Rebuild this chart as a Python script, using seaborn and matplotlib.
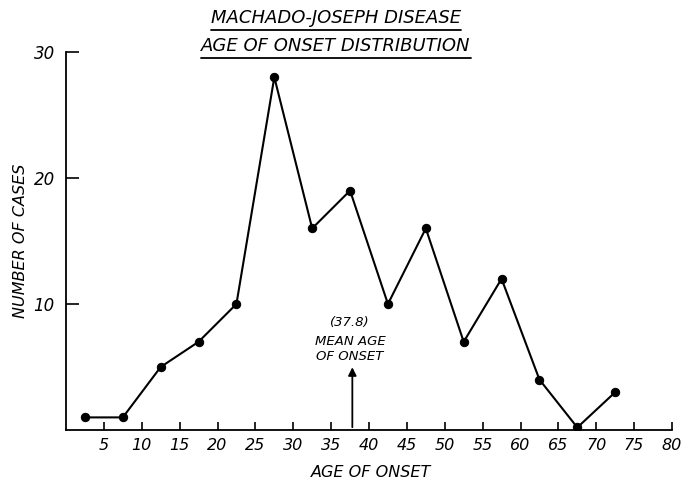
import matplotlib
matplotlib.use("Agg")
import matplotlib.pyplot as plt
import seaborn as sns
import pandas as pd
from matplotlib.lines import Line2D

# ---- data ----
age_midpoints = [2.5, 7.5, 12.5, 17.5, 22.5, 27.5, 32.5, 37.5, 42.5, 47.5, 52.5, 57.5, 62.5, 67.5, 72.5]
num_cases = [1, 1, 5, 7, 10, 28, 16, 19, 10, 16, 7, 12, 4, 0.2, 3]
x_ticks = [5, 10, 15, 20, 25, 30, 35, 40, 45, 50, 55, 60, 65, 70, 75, 80]
y_ticks = [10, 20, 30]
mean_age = 37.8
title_lines = ["MACHADO-JOSEPH DISEASE", "AGE OF ONSET DISTRIBUTION"]

sns.set_theme(style="white")
plt.rcParams['font.family'] = ["DejaVu Sans"]
plt.rcParams['font.style'] = 'italic'
for k in ["text.color", "axes.labelcolor", "xtick.color", "ytick.color", "axes.edgecolor"]:
    plt.rcParams[k] = "black"

df = pd.DataFrame({"age": age_midpoints, "cases": num_cases})

fig = plt.figure(figsize=(6.86, 4.8), dpi=100)
ax = fig.add_axes([66/686, 1-430/480, (672-66)/686, (430-52)/480])
sns.lineplot(data=df, x="age", y="cases", ax=ax, color="black", lw=1.5,
             marker="o", markersize=6, markeredgecolor="black", markerfacecolor="black")

ax.set_xlim(0, 80)
ax.set_ylim(0, 30)
ax.set_xticks(x_ticks)
ax.set_xticklabels([str(t) for t in x_ticks], fontsize=11.5, style='italic')
ax.set_yticks(y_ticks)
ax.set_yticklabels([str(t) for t in y_ticks], fontsize=12, style='italic')
ax.tick_params(axis='x', bottom=True, direction='in', length=6, width=1.2, color='black', pad=6)
ax.tick_params(axis='y', left=True, direction='in', length=9, width=1.2, color='black', pad=8)
for s in ["top", "right"]:
    ax.spines[s].set_visible(False)
for s in ["left", "bottom"]:
    ax.spines[s].set_color("black")
    ax.spines[s].set_linewidth(1.3)

ax.set_xlabel("AGE OF ONSET", fontsize=11.5, style='italic')
ax.xaxis.set_label_coords(0.504, -0.092)
ax.set_ylabel("NUMBER OF CASES", fontsize=11.5, style='italic')
ax.yaxis.set_label_coords(-0.062, 0.5)

# mean arrow
ax.annotate("", xy=(mean_age, 5.2), xytext=(mean_age, 0),
            arrowprops=dict(arrowstyle="-|>", color="black", lw=1.3, mutation_scale=12))
ax.text(mean_age - 0.3, 8.5, "(37.8)", ha="center", va="center", fontsize=9.5, style='italic')
ax.text(mean_age - 0.3, 7.0, "MEAN AGE", ha="center", va="center", fontsize=9.5, style='italic')
ax.text(mean_age - 0.3, 5.8, "OF ONSET", ha="center", va="center", fontsize=9.5, style='italic')

# titles with underline
fig.canvas.draw()
renderer = fig.canvas.get_renderer()
for txt, ypix in zip(title_lines, [18, 46]):
    t = fig.text(336/686, 1 - ypix/480, txt, ha="center", va="center", fontsize=13, style='italic')
    bb = t.get_window_extent(renderer=renderer)
    fx0 = bb.x0 / fig.bbox.width
    fx1 = bb.x1 / fig.bbox.width
    fy = (bb.y0 - 3) / fig.bbox.height
    fig.add_artist(Line2D([fx0, fx1], [fy, fy], color="black", lw=1.3, transform=fig.transFigure))

fig.savefig("out.png", dpi=100, facecolor="white")
